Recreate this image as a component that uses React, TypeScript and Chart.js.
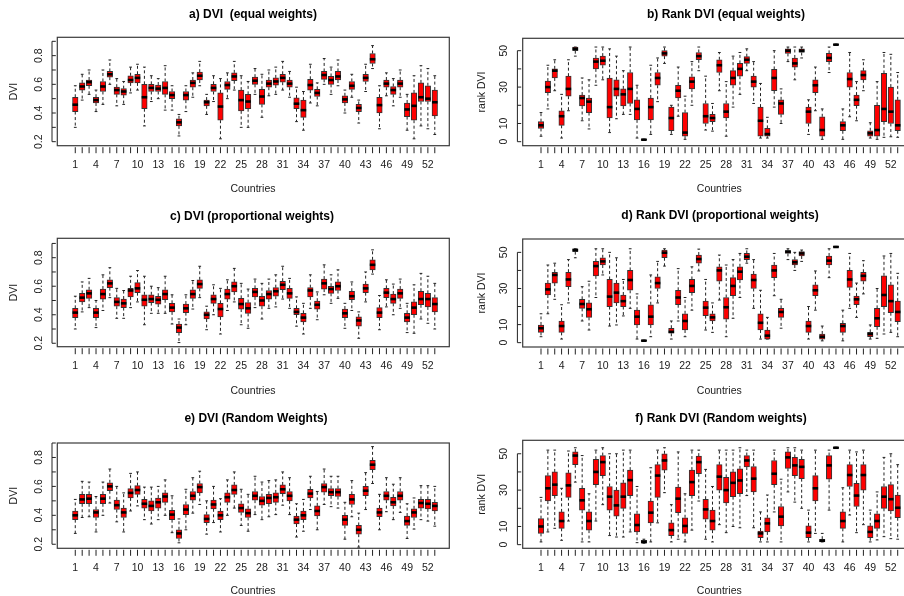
import { useEffect, useRef } from "react";
import { Chart, registerables } from "chart.js";

Chart.register(...registerables);

// ---------- categories & ticks ----------
const countries = [
  1, 2, 3, 4, 5, 6, 7, 8, 9, 10, 11, 12, 13, 14, 15, 16, 17, 18, 19, 20, 21, 22, 23, 24, 25, 26, 27,
  28, 29, 30, 31, 32, 33, 34, 35, 36, 37, 38, 39, 40, 41, 42, 43, 44, 45, 46, 47, 48, 49, 50, 51, 52, 53,
];
const xTickLabels = [1, 4, 7, 10, 13, 16, 19, 22, 25, 28, 31, 34, 37, 40, 43, 46, 49, 52];
const dviTicks = [0.2, 0.3, 0.4, 0.5, 0.6, 0.7, 0.8, 0.9];
const dviTickLabels = [0.2, 0.4, 0.6, 0.8];
const rankTicks = [0, 10, 20, 30, 40, 50];
const rankTickLabels = [0, 10, 30, 50];

// ---------- a) DVI (equal weights) ----------
const aMin = [
  0.30, 0.49, 0.53, 0.41, 0.46, 0.60, 0.45, 0.46, 0.54, 0.56,
  0.31, 0.48, 0.50, 0.42, 0.42, 0.24, 0.41, 0.51, 0.59, 0.39,
  0.48, 0.22, 0.50, 0.56, 0.30, 0.30, 0.53, 0.37, 0.52, 0.53,
  0.56, 0.51, 0.34, 0.28, 0.47, 0.45, 0.60, 0.53, 0.59, 0.40,
  0.51, 0.33, 0.55, 0.71, 0.29, 0.52, 0.45, 0.51, 0.28, 0.22,
  0.31, 0.29, 0.25,
];
const aQ1 = [
  0.41, 0.56, 0.59, 0.47, 0.55, 0.65, 0.53, 0.525, 0.61, 0.61,
  0.43, 0.55, 0.55, 0.53, 0.50, 0.31, 0.49, 0.58, 0.63, 0.45,
  0.55, 0.35, 0.565, 0.625, 0.415, 0.43, 0.60, 0.46, 0.58, 0.595,
  0.615, 0.58, 0.43, 0.37, 0.56, 0.515, 0.635, 0.60, 0.63, 0.47,
  0.565, 0.41, 0.62, 0.745, 0.40, 0.58, 0.53, 0.58, 0.375, 0.35,
  0.48, 0.48, 0.38,
];
const aMed = [
  0.458, 0.585, 0.615, 0.49, 0.585, 0.67, 0.56, 0.55, 0.63, 0.645,
  0.51, 0.575, 0.57, 0.575, 0.525, 0.335, 0.525, 0.61, 0.66, 0.475,
  0.575, 0.445, 0.595, 0.655, 0.49, 0.48, 0.625, 0.515, 0.605, 0.62,
  0.645, 0.605, 0.465, 0.42, 0.595, 0.54, 0.665, 0.63, 0.655, 0.495,
  0.59, 0.435, 0.645, 0.775, 0.455, 0.605, 0.56, 0.605, 0.425, 0.45,
  0.51, 0.50, 0.475,
];
const aQ3 = [
  0.51, 0.61, 0.63, 0.51, 0.62, 0.69, 0.58, 0.57, 0.66, 0.67,
  0.60, 0.60, 0.595, 0.62, 0.55, 0.36, 0.55, 0.63, 0.685, 0.49,
  0.60, 0.54, 0.62, 0.68, 0.56, 0.53, 0.65, 0.565, 0.63, 0.645,
  0.67, 0.63, 0.505, 0.49, 0.635, 0.565, 0.69, 0.655, 0.69, 0.52,
  0.62, 0.46, 0.67, 0.815, 0.51, 0.63, 0.585, 0.63, 0.47, 0.54,
  0.61, 0.59, 0.56,
];
const aMax = [
  0.59, 0.67, 0.70, 0.56, 0.70, 0.77, 0.64, 0.62, 0.72, 0.74,
  0.72, 0.66, 0.64, 0.73, 0.59, 0.39, 0.59, 0.68, 0.76, 0.53,
  0.66, 0.64, 0.68, 0.76, 0.66, 0.62, 0.71, 0.67, 0.70, 0.72,
  0.76, 0.69, 0.58, 0.55, 0.74, 0.61, 0.78, 0.72, 0.77, 0.56,
  0.67, 0.49, 0.74, 0.87, 0.59, 0.68, 0.64, 0.70, 0.53, 0.66,
  0.73, 0.71, 0.66,
];

// ---------- b) Rank DVI (equal weights) ----------
const bMin = [
  3, 18, 28, 2, 17, 47, 11.5, 7, 31, 34,
  5, 12.6, 15, 15, 2, 0.8, 4, 22, 43, 4,
  14, 1.3, 20, 39, 6.4, 5.8, 28, 3, 19, 26,
  39, 21, 2, 2, 19, 10, 44, 34, 46, 4,
  17, 1.3, 38, 53, 1.3, 13.7, 11.5, 28, 2, 1.3,
  2.4, 2.7, 2.4,
];
const bQ1 = [
  7.3, 27, 35, 9, 25, 50, 19.6, 16, 40, 42,
  13, 25, 19.6, 21, 12, 0.8, 12, 31, 47, 6,
  24, 3, 29, 45, 10, 11, 38, 13, 31, 36,
  43, 30, 3, 3, 28, 15, 48.5, 41, 49, 10,
  27, 3, 44, 53, 6, 30, 19.8, 34, 3, 3,
  11, 10, 6,
];
const bMed = [
  9, 30, 39, 14, 29, 51, 24, 22, 44, 44.5,
  19, 29, 26, 29, 18, 1.1, 19, 35, 48.5, 13,
  28, 5, 33, 47, 14, 13, 42, 16.5, 35, 40,
  45, 33, 11.5, 4.2, 35, 21, 50, 43, 50, 16.5,
  31, 6.4, 46, 53.3, 9, 34.4, 23, 36.6, 4.6, 6.4,
  18, 16.5, 9,
];
const bQ3 = [
  11, 33.3, 40, 17, 36, 52, 25.6, 24, 46, 47,
  35, 34, 29, 38, 23, 1.4, 24, 38, 50, 19,
  31, 16, 35.7, 49, 21, 15, 45, 21, 39, 43,
  46.7, 36, 19, 7.3, 39.7, 23, 51, 46, 51, 19,
  34, 13.7, 48.5, 53.6, 11, 38, 25.6, 39, 6, 20,
  37.5, 30, 23,
];
const bMax = [
  16, 42, 45, 26, 45, 52, 35, 34, 52, 52,
  51, 47, 39, 52, 31, 1.4, 42, 46, 52, 20,
  41, 25, 44, 52, 36, 21, 49, 33, 47, 49,
  51, 44, 32, 13.4, 50, 29, 52, 52, 52, 23,
  41, 18, 52, 53.6, 18, 49, 33, 45, 10.4, 33,
  49, 48, 38,
];

// ---------- c) DVI (proportional weights) ----------
const cMin = [
  0.30, 0.42, 0.45, 0.31, 0.43, 0.52, 0.375, 0.375, 0.45, 0.49,
  0.33, 0.41, 0.41, 0.41, 0.335, 0.205, 0.33, 0.44, 0.52, 0.295,
  0.40, 0.265, 0.43, 0.49, 0.33, 0.305, 0.45, 0.37, 0.445, 0.455,
  0.51, 0.445, 0.32, 0.265, 0.445, 0.365, 0.54, 0.48, 0.515, 0.305,
  0.43, 0.235, 0.49, 0.685, 0.295, 0.455, 0.40, 0.445, 0.275, 0.27,
  0.37, 0.34, 0.30,
];
const cQ1 = [
  0.38, 0.49, 0.515, 0.38, 0.51, 0.59, 0.46, 0.45, 0.525, 0.555,
  0.46, 0.485, 0.475, 0.505, 0.42, 0.275, 0.415, 0.515, 0.585, 0.37,
  0.48, 0.385, 0.51, 0.56, 0.44, 0.41, 0.525, 0.46, 0.51, 0.53,
  0.575, 0.515, 0.40, 0.35, 0.525, 0.44, 0.58, 0.55, 0.57, 0.38,
  0.505, 0.32, 0.555, 0.715, 0.38, 0.52, 0.48, 0.515, 0.35, 0.40,
  0.47, 0.455, 0.42,
];
const cMed = [
  0.415, 0.52, 0.55, 0.415, 0.545, 0.62, 0.49, 0.48, 0.57, 0.585,
  0.505, 0.51, 0.505, 0.545, 0.45, 0.31, 0.445, 0.545, 0.615, 0.40,
  0.51, 0.44, 0.545, 0.60, 0.475, 0.445, 0.56, 0.50, 0.545, 0.565,
  0.61, 0.55, 0.42, 0.38, 0.57, 0.47, 0.62, 0.58, 0.60, 0.41,
  0.53, 0.36, 0.585, 0.75, 0.415, 0.555, 0.51, 0.55, 0.38, 0.45,
  0.51, 0.51, 0.475,
];
const cQ3 = [
  0.445, 0.55, 0.575, 0.445, 0.58, 0.645, 0.52, 0.51, 0.585, 0.625,
  0.54, 0.54, 0.53, 0.575, 0.48, 0.335, 0.475, 0.575, 0.645, 0.42,
  0.54, 0.48, 0.58, 0.63, 0.515, 0.485, 0.585, 0.53, 0.57, 0.59,
  0.635, 0.585, 0.445, 0.41, 0.59, 0.495, 0.65, 0.60, 0.63, 0.44,
  0.565, 0.385, 0.615, 0.785, 0.45, 0.585, 0.545, 0.58, 0.41, 0.49,
  0.565, 0.55, 0.52,
];
const cMax = [
  0.53, 0.63, 0.655, 0.50, 0.68, 0.73, 0.585, 0.57, 0.67, 0.71,
  0.67, 0.60, 0.59, 0.67, 0.54, 0.37, 0.54, 0.64, 0.74, 0.46,
  0.61, 0.585, 0.645, 0.725, 0.62, 0.58, 0.65, 0.62, 0.65, 0.68,
  0.74, 0.655, 0.525, 0.48, 0.68, 0.56, 0.75, 0.68, 0.715, 0.48,
  0.63, 0.42, 0.70, 0.855, 0.535, 0.645, 0.615, 0.65, 0.48, 0.61,
  0.69, 0.67, 0.62,
];

// ---------- d) Rank DVI (proportional weights) ----------
const dMin = [
  3.3, 16, 24, 2, 22, 47, 12, 7, 25, 37.5,
  9.2, 9.8, 14.8, 19, 2, 0.8, 3.3, 22, 42.4, 2,
  12, 3.3, 18, 39.7, 7, 5.7, 23.6, 3.3, 13.5, 25,
  44, 19, 2, 2, 26, 8, 46, 40, 45, 2,
  18, 1, 36, 52.7, 1, 19, 14, 27, 2, 2.4,
  4.8, 5.7, 3.3,
];
const dQ1 = [
  5.7, 26.4, 33, 5.7, 31, 50.4, 19, 14, 37, 43,
  20, 22, 20, 29, 9.8, 0.8, 9.8, 30, 47, 5.2,
  21, 7, 27.7, 44, 15, 12, 34, 13, 26, 34.7,
  46, 30, 7, 2, 36, 14, 49.4, 43, 48, 5.7,
  26, 2, 43, 52.7, 5.7, 30.6, 21, 34, 3.3, 8.8,
  20, 16.6, 11.6,
];
const dMed = [
  8, 29.5, 37.5, 9.2, 35, 51.3, 21.4, 18.5, 42.4, 45,
  25.5, 27.7, 23, 34.7, 14.4, 1.1, 14.4, 33, 49.8, 6,
  25, 12, 31.4, 46.3, 19.4, 14, 40, 19.6, 31.4, 39.3,
  47.6, 34.7, 11, 3.9, 40, 17, 50.4, 44.5, 49.4, 9.2,
  29, 3.3, 45.4, 53, 9.2, 35, 24, 37, 4.8, 13.5,
  26.4, 23, 17,
];
const dQ3 = [
  9.8, 33, 39, 12, 39, 52, 24, 22, 45, 47,
  35, 33, 26.4, 40, 18, 1.4, 21, 36.5, 51.3, 8,
  29, 16, 35, 48.5, 23, 16, 42, 25, 36, 42,
  49.4, 38, 16, 7, 43, 19, 51, 46, 50.4, 12,
  32, 4.8, 48, 53.3, 10.7, 40, 25.8, 39, 5.7, 19,
  37, 32, 23,
];
const dMax = [
  16, 43, 44, 21, 46, 52, 31, 34, 52, 52,
  50, 47, 35, 52, 27, 1.4, 37.5, 45, 52, 12,
  41, 25, 42, 51.8, 35, 22, 48.5, 43, 46, 49.4,
  52, 46, 29, 14, 49.4, 24, 52, 50, 51.3, 20,
  39.7, 9.2, 52, 53.3, 18, 49.4, 33, 45.4, 9.8, 30,
  48, 49.4, 38.4,
];

// ---------- e) DVI (Random Weights) ----------
const eMin = [
  0.275, 0.385, 0.39, 0.285, 0.40, 0.485, 0.355, 0.285, 0.43, 0.465,
  0.37, 0.34, 0.37, 0.40, 0.28, 0.21, 0.30, 0.415, 0.475, 0.27,
  0.35, 0.285, 0.40, 0.45, 0.33, 0.29, 0.405, 0.37, 0.39, 0.405,
  0.47, 0.405, 0.25, 0.29, 0.44, 0.30, 0.475, 0.46, 0.45, 0.235,
  0.39, 0.18, 0.44, 0.62, 0.30, 0.425, 0.37, 0.42, 0.24, 0.305,
  0.37, 0.36, 0.325,
];
const eQ1 = [
  0.37, 0.48, 0.48, 0.385, 0.48, 0.57, 0.44, 0.385, 0.52, 0.545,
  0.45, 0.43, 0.45, 0.49, 0.37, 0.24, 0.405, 0.505, 0.555, 0.35,
  0.445, 0.37, 0.49, 0.545, 0.42, 0.385, 0.505, 0.47, 0.48, 0.49,
  0.55, 0.50, 0.34, 0.37, 0.52, 0.395, 0.56, 0.535, 0.53, 0.33,
  0.475, 0.27, 0.535, 0.715, 0.39, 0.505, 0.465, 0.505, 0.33, 0.385,
  0.45, 0.445, 0.43,
];
const eMed = [
  0.40, 0.51, 0.515, 0.42, 0.515, 0.60, 0.47, 0.42, 0.555, 0.575,
  0.48, 0.465, 0.49, 0.53, 0.405, 0.275, 0.44, 0.535, 0.595, 0.375,
  0.475, 0.40, 0.525, 0.575, 0.45, 0.415, 0.535, 0.50, 0.52, 0.525,
  0.58, 0.535, 0.37, 0.40, 0.55, 0.43, 0.595, 0.56, 0.56, 0.37,
  0.51, 0.30, 0.57, 0.75, 0.42, 0.535, 0.49, 0.535, 0.36, 0.42,
  0.485, 0.48, 0.465,
];
const eQ3 = [
  0.43, 0.545, 0.545, 0.44, 0.545, 0.625, 0.505, 0.45, 0.585, 0.605,
  0.51, 0.50, 0.52, 0.555, 0.435, 0.30, 0.475, 0.565, 0.62, 0.405,
  0.505, 0.43, 0.555, 0.61, 0.48, 0.445, 0.565, 0.53, 0.545, 0.555,
  0.61, 0.565, 0.395, 0.43, 0.58, 0.465, 0.62, 0.585, 0.585, 0.40,
  0.545, 0.33, 0.60, 0.78, 0.45, 0.565, 0.525, 0.565, 0.395, 0.445,
  0.51, 0.51, 0.49,
];
const eMax = [
  0.51, 0.635, 0.63, 0.53, 0.63, 0.72, 0.60, 0.555, 0.69, 0.70,
  0.595, 0.595, 0.60, 0.645, 0.535, 0.375, 0.58, 0.66, 0.705, 0.50,
  0.60, 0.515, 0.645, 0.70, 0.58, 0.545, 0.67, 0.63, 0.64, 0.645,
  0.70, 0.66, 0.48, 0.51, 0.67, 0.565, 0.72, 0.67, 0.67, 0.49,
  0.64, 0.415, 0.695, 0.875, 0.545, 0.66, 0.615, 0.66, 0.48, 0.52,
  0.605, 0.605, 0.60,
];

// ---------- f) Rank DVI (Random weights) ----------
const fMin = [
  1.5, 7, 9, 2.4, 13, 34.4, 1.5, 1.5, 13, 22,
  5, 4.2, 4.2, 7, 1.1, 0.8, 1.5, 12, 28.6, 1.5,
  3, 1.5, 8, 24, 3, 1.5, 11, 6.6, 10, 9.3,
  27, 9.3, 1.5, 1.5, 18, 1.5, 29, 23.4, 20, 1.5,
  6.2, 1.5, 19, 53, 1.5, 16.3, 6.6, 11, 1.5, 2.6,
  4.4, 3.3, 3,
];
const fQ1 = [
  6.2, 24, 27, 9, 26, 44, 19, 8, 33, 38,
  19, 15.7, 20, 27, 7, 0.8, 12, 26, 41, 5,
  17.6, 6.2, 27, 39, 14, 8, 30, 23, 26.4, 28,
  42.7, 29, 3.8, 7, 33, 10.3, 42, 38, 36.3, 3.8,
  24, 1.5, 36, 53, 9, 32, 21, 30, 3.8, 9,
  20, 18.5, 14.8,
];
const fMed = [
  10, 31, 33, 13, 32.6, 49, 24.4, 13, 40, 45.4,
  26.4, 21.6, 26.4, 35.5, 10.8, 1.5, 17.6, 38, 46.3, 8,
  25.3, 10.3, 34.4, 45.4, 19.4, 13, 37.4, 30, 34, 35.3,
  46.3, 36.3, 6.2, 11.7, 39, 15.4, 48, 43.6, 42.8, 6.6,
  31, 2.2, 43.6, 53.3, 13, 38.3, 27, 38.3, 7, 13,
  26.4, 25, 20.3,
];
const fQ3 = [
  14.3, 38, 40, 18, 39.5, 51, 31, 18, 47, 49,
  32, 30, 34, 41, 17, 2.4, 24, 44, 50, 12,
  31.7, 14.8, 41, 48.7, 25, 19, 44, 37, 40, 41.7,
  49, 43, 7.5, 14.8, 46.3, 21, 51, 48, 47, 10.3,
  38, 3, 49, 53.6, 18, 44, 33.7, 44, 10.3, 17,
  32, 33, 27.3,
];
const fMax = [
  26, 52, 52, 31, 51.5, 53.3, 49, 28, 52, 53.3,
  50, 50, 52, 52, 32, 3, 42.3, 52, 53.3, 22,
  51, 28, 52, 52, 41.4, 32, 52, 52, 52, 53.3,
  52, 52, 18, 27.3, 52, 36, 53.3, 53.3, 52, 19,
  52, 6.2, 52, 53.6, 31.3, 52, 51, 52, 19, 29,
  48, 50, 44,
];

// ---------- panel layout (styles / positions only) ----------
type Stats = { min: number[]; q1: number[]; med: number[]; q3: number[]; max: number[] };
type PanelDef = {
  key: string;
  title: string;
  yTitle: string;
  stats: Stats;
  yTicks: number[];
  yLabels: number[];
  decimals: number;
  canvas: { x: number; y: number; w: number; h: number };
  box: { l: number; t: number; r: number; b: number };
  xRange: [number, number];
  yRange: [number, number];
  titleX: number;
  titleY: number;
  yLabelX: number;
  yTitleX: number;
  xLabelDy: number;
  xTitleX: number;
  xTitleDy: number;
};

const panels: PanelDef[] = [
  {
    key: "a", title: "a) DVI  (equal weights)", yTitle: "DVI",
    stats: { min: aMin, q1: aQ1, med: aMed, q3: aQ3, max: aMax },
    yTicks: dviTicks, yLabels: dviTickLabels, decimals: 1,
    canvas: { x: 0, y: 0, w: 452, h: 198 },
    box: { l: 57.3, t: 37.3, r: 449.3, b: 145.7 },
    xRange: [-1.6, 55.1], yRange: [0.172, 0.928],
    titleX: 253, titleY: 15, yLabelX: 39.3, yTitleX: 14.5, xLabelDy: 19.3, xTitleX: 253, xTitleDy: 43.6,
  },
  {
    key: "b", title: "b) Rank DVI (equal weights)", yTitle: "rank DVI",
    stats: { min: bMin, q1: bQ1, med: bMed, q3: bQ3, max: bMax },
    yTicks: rankTicks, yLabels: rankTickLabels, decimals: 0,
    canvas: { x: 452, y: 0, w: 470, h: 198 },
    box: { l: 522.7, t: 38.3, r: 912.1, b: 145.7 },
    xRange: [-1.67, 55.1], yRange: [-2.2, 56.8],
    titleX: 726, titleY: 15, yLabelX: 504.3, yTitleX: 481.7, xLabelDy: 19.3, xTitleX: 719.3, xTitleDy: 43.6,
  },
  {
    key: "c", title: "c) DVI (proportional weights)", yTitle: "DVI",
    stats: { min: cMin, q1: cQ1, med: cMed, q3: cQ3, max: cMax },
    yTicks: dviTicks, yLabels: dviTickLabels, decimals: 1,
    canvas: { x: 0, y: 198, w: 452, h: 198 },
    box: { l: 57.3, t: 238.3, r: 449.3, b: 346.7 },
    xRange: [-1.6, 55.1], yRange: [0.176, 0.936],
    titleX: 252, titleY: 216.5, yLabelX: 39.3, yTitleX: 14.5, xLabelDy: 19.2, xTitleX: 253, xTitleDy: 44,
  },
  {
    key: "d", title: "d) Rank DVI (proportional weights)", yTitle: "rank DVI",
    stats: { min: dMin, q1: dQ1, med: dMed, q3: dQ3, max: dMax },
    yTicks: rankTicks, yLabels: rankTickLabels, decimals: 0,
    canvas: { x: 452, y: 198, w: 470, h: 198 },
    box: { l: 522.7, t: 239, r: 912.1, b: 347 },
    xRange: [-1.67, 55.1], yRange: [-2.4, 57.4],
    titleX: 720, titleY: 216, yLabelX: 504.3, yTitleX: 481.7, xLabelDy: 19, xTitleX: 719.3, xTitleDy: 43.7,
  },
  {
    key: "e", title: "e) DVI (Random Weights)", yTitle: "DVI",
    stats: { min: eMin, q1: eQ1, med: eMed, q3: eQ3, max: eMax },
    yTicks: dviTicks, yLabels: dviTickLabels, decimals: 1,
    canvas: { x: 0, y: 396, w: 452, h: 200 },
    box: { l: 57.3, t: 443, r: 449.3, b: 548.3 },
    xRange: [-1.6, 55.1], yRange: [0.172, 0.9],
    titleX: 256, titleY: 418.7, yLabelX: 39.3, yTitleX: 14.5, xLabelDy: 19.4, xTitleX: 253, xTitleDy: 42.7,
  },
  {
    key: "f", title: "f) Rank DVI (Random weights)", yTitle: "rank DVI",
    stats: { min: fMin, q1: fQ1, med: fMed, q3: fQ3, max: fMax },
    yTicks: rankTicks, yLabels: rankTickLabels, decimals: 0,
    canvas: { x: 452, y: 396, w: 470, h: 200 },
    box: { l: 522.7, t: 440.3, r: 912.1, b: 548.3 },
    xRange: [-1.67, 55.1], yRange: [-2.0, 57.4],
    titleX: 721, titleY: 418.7, yLabelX: 504.3, yTitleX: 481.7, xLabelDy: 19.4, xTitleX: 719.3, xTitleDy: 42.7,
  },
];

const FONT = '"Liberation Sans", Arial, Helvetica, sans-serif';
const TEXT = "#1a1a1a";

function makeBoxPlugin(p: PanelDef) {
  const ox = p.canvas.x;
  const oy = p.canvas.y;
  return {
    id: "rbox_" + p.key,
    beforeDatasetsDraw(chart: any) {
      const { ctx, chartArea } = chart;
      const xs = chart.scales.x;
      const ys = chart.scales.y;
      const s = p.stats;
      const half = Math.abs(xs.getPixelForValue(0.2) - xs.getPixelForValue(0));
      ctx.save();
      ctx.beginPath();
      ctx.rect(chartArea.left, chartArea.top, chartArea.right - chartArea.left, chartArea.bottom - chartArea.top);
      ctx.clip();
      ctx.strokeStyle = "#222";
      ctx.lineWidth = 1;
      ctx.setLineDash([3, 2.5]);
      countries.forEach((c, i) => {
        const x = xs.getPixelForValue(c);
        ctx.beginPath();
        ctx.moveTo(x, ys.getPixelForValue(s.q3[i]));
        ctx.lineTo(x, ys.getPixelForValue(s.max[i]));
        ctx.moveTo(x, ys.getPixelForValue(s.q1[i]));
        ctx.lineTo(x, ys.getPixelForValue(s.min[i]));
        ctx.stroke();
      });
      ctx.setLineDash([]);
      ctx.beginPath();
      countries.forEach((c, i) => {
        const x = xs.getPixelForValue(c);
        const yMax = ys.getPixelForValue(s.max[i]);
        const yMin = ys.getPixelForValue(s.min[i]);
        ctx.moveTo(x - half, yMax);
        ctx.lineTo(x + half, yMax);
        ctx.moveTo(x - half, yMin);
        ctx.lineTo(x + half, yMin);
      });
      ctx.stroke();
      ctx.restore();
    },
    afterDatasetsDraw(chart: any) {
      const { ctx, chartArea } = chart;
      const xs = chart.scales.x;
      const ys = chart.scales.y;
      const s = p.stats;
      const meta = chart.getDatasetMeta(0);
      ctx.save();
      // medians
      ctx.strokeStyle = "#000";
      ctx.lineWidth = 2.6;
      ctx.lineCap = "butt";
      meta.data.forEach((el: any, i: number) => {
        const w = el.width / 2;
        const y = ys.getPixelForValue(s.med[i]);
        ctx.beginPath();
        ctx.moveTo(el.x - w, y);
        ctx.lineTo(el.x + w, y);
        ctx.stroke();
      });
      // frame
      ctx.strokeStyle = "#3a3a3a";
      ctx.lineWidth = 1.2;
      ctx.strokeRect(chartArea.left, chartArea.top, chartArea.right - chartArea.left, chartArea.bottom - chartArea.top);

      // x axis ticks
      ctx.strokeStyle = "#222";
      ctx.lineWidth = 1;
      ctx.beginPath();
      countries.forEach((c) => {
        const x = xs.getPixelForValue(c);
        ctx.moveTo(x, chartArea.bottom + 1.5);
        ctx.lineTo(x, chartArea.bottom + 7.5);
      });
      ctx.stroke();
      ctx.fillStyle = TEXT;
      ctx.font = `10.5px ${FONT}`;
      ctx.textAlign = "center";
      ctx.textBaseline = "middle";
      xTickLabels.forEach((v) => {
        ctx.fillText(String(v), xs.getPixelForValue(v), chartArea.bottom + p.xLabelDy);
      });

      // y axis
      const lineX = chartArea.left - 5.3;
      const inRange = p.yTicks.filter((t) => t >= p.yRange[0] - 1e-9 && t <= p.yRange[1] + 1e-9);
      ctx.beginPath();
      ctx.moveTo(lineX, ys.getPixelForValue(inRange[0]));
      ctx.lineTo(lineX, ys.getPixelForValue(inRange[inRange.length - 1]));
      inRange.forEach((t) => {
        const y = ys.getPixelForValue(t);
        ctx.moveTo(lineX, y);
        ctx.lineTo(chartArea.left - 1.5, y);
      });
      ctx.stroke();
      p.yLabels.forEach((t) => {
        const y = ys.getPixelForValue(t);
        ctx.save();
        ctx.translate(p.yLabelX - ox, y);
        ctx.rotate(-Math.PI / 2);
        ctx.fillText(t.toFixed(p.decimals), 0, 0);
        ctx.restore();
      });

      // axis titles
      ctx.font = `10.5px ${FONT}`;
      ctx.fillText("Countries", p.xTitleX - ox, chartArea.bottom + p.xTitleDy);
      ctx.save();
      ctx.translate(p.yTitleX - ox, (chartArea.top + chartArea.bottom) / 2);
      ctx.rotate(-Math.PI / 2);
      ctx.fillText(p.yTitle, 0, 0);
      ctx.restore();

      // panel title
      ctx.font = `bold 12px ${FONT}`;
      ctx.fillStyle = "#000";
      ctx.fillText(p.title, p.titleX - ox, p.titleY - oy);
      ctx.restore();
    },
  };
}

function BoxPanel({ p }: { p: PanelDef }) {
  const ref = useRef<HTMLCanvasElement | null>(null);
  useEffect(() => {
    if (!ref.current) return;
    const { x, y, w, h } = p.canvas;
    const s = p.stats;
    // box width = 0.8 of the spacing between two countries (R boxwex default)
    const unitPx = (p.box.r - p.box.l) / (p.xRange[1] - p.xRange[0]);
    const chart = new Chart(ref.current, {
      type: "bar",
      data: {
        datasets: [
          {
            data: countries.map((c, i) => ({ x: c, y: [s.q1[i], s.q3[i]] })) as any,
            backgroundColor: "#ff0000",
            borderColor: "#333333",
            borderWidth: 1,
            borderSkipped: false,
            barThickness: 0.8 * unitPx,
          },
        ],
      },
      options: {
        animation: false,
        responsive: false,
        maintainAspectRatio: false,
        events: [],
        layout: {
          padding: {
            left: p.box.l - x,
            top: p.box.t - y,
            right: w - (p.box.r - x),
            bottom: h - (p.box.b - y),
          },
        },
        scales: {
          x: { type: "linear", display: false, min: p.xRange[0], max: p.xRange[1], offset: false, grid: { display: false } },
          y: { type: "linear", display: false, min: p.yRange[0], max: p.yRange[1], grid: { display: false } },
        },
        plugins: {
          legend: { display: false },
          tooltip: { enabled: false },
          title: { display: false },
        },
      },
      plugins: [makeBoxPlugin(p)],
    });
    return () => chart.destroy();
  }, [p]);
  return (
    <canvas
      ref={ref}
      width={p.canvas.w}
      height={p.canvas.h}
      style={{ position: "absolute", left: p.canvas.x, top: p.canvas.y, width: p.canvas.w, height: p.canvas.h }}
    />
  );
}

export default function App() {
  return (
    <div
      style={{
        position: "absolute",
        left: 0,
        top: 0,
        width: 904,
        height: 596,
        overflow: "hidden",
        background: "#ffffff",
      }}
    >
      {panels.map((p) => (
        <BoxPanel key={p.key} p={p} />
      ))}
    </div>
  );
}
